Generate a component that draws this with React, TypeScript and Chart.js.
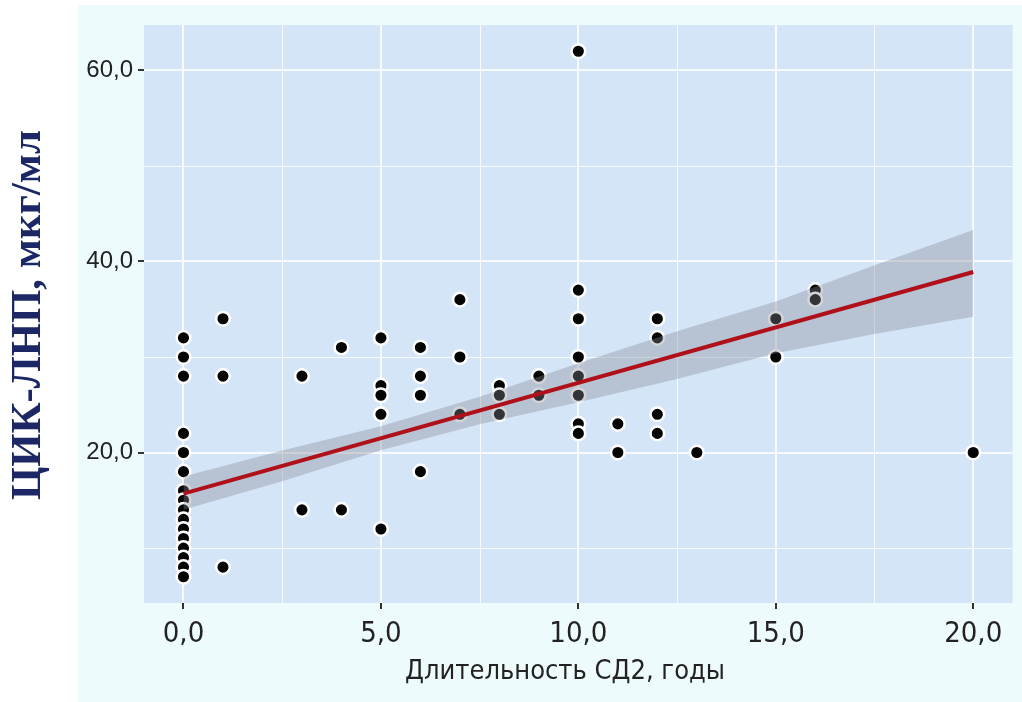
import React, { useEffect, useRef } from "react";
import { Chart, registerables } from "chart.js";

Chart.register(...registerables);

// Observations: duration of type 2 diabetes (years) vs. CIC-LDL (µg/ml)
const durationYears = [
  0, 0, 0, 0, 0, 0, 0, 0, 0, 0, 0, 0, 0, 0, 0, 0,
  1, 1, 1,
  3, 3,
  4, 4,
  5, 5, 5, 5, 5,
  6, 6, 6, 6,
  7, 7, 7,
  8, 8, 8,
  9, 9,
  10, 10, 10, 10, 10, 10, 10, 10,
  11, 11,
  12, 12, 12, 12,
  13,
  15, 15,
  16, 16,
  20,
];
const cicLdl = [
  32, 30, 28, 22, 20, 18, 16, 15, 14, 13, 12, 11, 10, 9, 8, 7,
  34, 28, 8,
  28, 14,
  31, 14,
  32, 27, 26, 24, 12,
  31, 28, 26, 18,
  36, 30, 24,
  27, 26, 24,
  28, 26,
  62, 37, 34, 30, 28, 26, 23, 22,
  23, 20,
  34, 32, 24, 22,
  20,
  34, 30,
  37, 36,
  20,
];

// Fitted regression line and its confidence band
const fitX = [0, 20];
const fitY = [15.7, 38.9];
const bandX = [0, 2.5, 5, 7.5, 10, 12.5, 15, 17.5, 20];
const bandLower = [14.0, 17.0, 20.25, 22.95, 25.25, 27.7, 30.4, 32.4, 34.2];
const bandUpper = [17.5, 20.2, 22.75, 25.85, 29.35, 32.7, 35.8, 39.6, 43.3];

// Axis ticks
const xMajorTicks = [0, 5, 10, 15, 20];
const xMinorTicks = [2.5, 7.5, 12.5, 17.5];
const yMajorTicks = [20, 40, 60];
const yMinorTicks = [10, 30, 50];

const xTitle = "Длительность СД2, годы";
const yTitle = "ЦИК-ЛНП, мкг/мл";

const PLOT_BG = "#d5e5f8";
const PANEL_BG = "#eefbfc";
const GRID = "#f7fbff";

const fmt = (v: number) => v.toFixed(1).replace(".", ",");

const backgroundPlugin = {
  id: "panelBackground",
  beforeDraw(chart: any) {
    const { ctx, chartArea, scales } = chart;
    ctx.save();
    ctx.fillStyle = "#ffffff";
    ctx.fillRect(0, 0, chart.width, chart.height);
    ctx.fillStyle = PANEL_BG;
    ctx.fillRect(78, 5, chart.width - 78, chart.height - 5);
    ctx.fillStyle = PLOT_BG;
    ctx.fillRect(chartArea.left, chartArea.top, chartArea.right - chartArea.left, chartArea.bottom - chartArea.top);
    // minor grid
    ctx.strokeStyle = GRID;
    ctx.lineWidth = 1;
    ctx.beginPath();
    for (const v of xMinorTicks) {
      const px = Math.round(scales.x.getPixelForValue(v)) + 0.5;
      ctx.moveTo(px, chartArea.top);
      ctx.lineTo(px, chartArea.bottom);
    }
    for (const v of yMinorTicks) {
      const py = Math.round(scales.y.getPixelForValue(v)) + 0.5;
      ctx.moveTo(chartArea.left, py);
      ctx.lineTo(chartArea.right, py);
    }
    ctx.stroke();
    ctx.restore();
  },
  afterDraw(chart: any) {
    const { ctx } = chart;
    ctx.save();
    // x axis title
    ctx.fillStyle = "#222222";
    ctx.font = '27px "Liberation Sans Narrow", "DejaVu Sans Condensed", sans-serif';
    ctx.textAlign = "center";
    ctx.textBaseline = "middle";
    ctx.fillText(xTitle, 565, 672);
    // y axis title
    ctx.translate(29, 315);
    ctx.rotate(-Math.PI / 2);
    ctx.font = 'bold 42px "Liberation Serif", serif';
    ctx.fillStyle = "#1c2766";
    const w = ctx.measureText(yTitle).width;
    ctx.scale(370 / w, 1);
    ctx.fillText(yTitle, 0, 0);
    ctx.restore();
  },
};

export default function App() {
  const canvasRef = useRef<HTMLCanvasElement | null>(null);

  useEffect(() => {
    if (!canvasRef.current) return;
    const points = durationYears.map((x, i) => ({ x, y: cicLdl[i] }));
    const lower = bandX.map((x, i) => ({ x, y: bandLower[i] }));
    const upper = bandX.map((x, i) => ({ x, y: bandUpper[i] }));
    const fit = fitX.map((x, i) => ({ x, y: fitY[i] }));

    const chart = new Chart(canvasRef.current, {
      type: "scatter",
      data: {
        datasets: [
          {
            data: points,
            backgroundColor: "#050505",
            borderColor: "#ffffff",
            borderWidth: 2.5,
            pointRadius: 6.8,
            order: 10,
          } as any,
          {
            type: "line",
            data: lower,
            borderWidth: 0,
            pointRadius: 0,
            fill: false,
            order: 5,
          } as any,
          {
            type: "line",
            data: upper,
            borderWidth: 0,
            pointRadius: 0,
            fill: "-1",
            backgroundColor: "rgba(130,135,145,0.36)",
            order: 4,
          } as any,
          {
            type: "line",
            data: fit,
            borderColor: "#b0101a",
            borderWidth: 4,
            pointRadius: 0,
            fill: false,
            order: 0,
          } as any,
        ],
      },
      options: {
        animation: false,
        responsive: false,
        layout: { padding: { top: 25, right: 7, left: 0, bottom: 0 } },
        plugins: {
          legend: { display: false },
          tooltip: { enabled: false },
        },
        scales: {
          x: {
            type: "linear",
            min: -1,
            max: 21,
            afterBuildTicks(scale: any) {
              scale.ticks = xMajorTicks.map((value) => ({ value }));
            },
            afterFit(scale: any) {
              scale.height = 99;
            },
            grid: {
              color: GRID,
              lineWidth: 2,
              drawTicks: true,
              tickLength: 6,
              tickColor: "#333333",
              tickWidth: 2,
            },
            border: { display: false },
            ticks: {
              padding: 8,
              color: "#222222",
              font: { family: '"Liberation Sans Narrow", "DejaVu Sans Condensed", sans-serif', size: 29 },
              callback: (v: any) => fmt(Number(v)),
              maxRotation: 0,
            },
          },
          y: {
            type: "linear",
            min: 4.25,
            max: 64.75,
            afterBuildTicks(scale: any) {
              scale.ticks = yMajorTicks.map((value) => ({ value }));
            },
            afterFit(scale: any) {
              scale.width = 144;
            },
            grid: {
              color: GRID,
              lineWidth: 2,
              drawTicks: true,
              tickLength: 6,
              tickColor: "#333333",
              tickWidth: 2,
            },
            border: { display: false },
            ticks: {
              padding: 5,
              color: "#222222",
              font: { family: '"Liberation Sans", Arial, sans-serif', size: 24 },
              callback: (v: any) => fmt(Number(v)),
            },
          },
        },
      },
      plugins: [backgroundPlugin],
    });
    return () => chart.destroy();
  }, []);

  return (
    <div style={{ position: "absolute", left: 0, top: 0, width: 1022, height: 702 }}>
      <canvas ref={canvasRef} width={1022} height={702} style={{ display: "block" }} />
    </div>
  );
}
